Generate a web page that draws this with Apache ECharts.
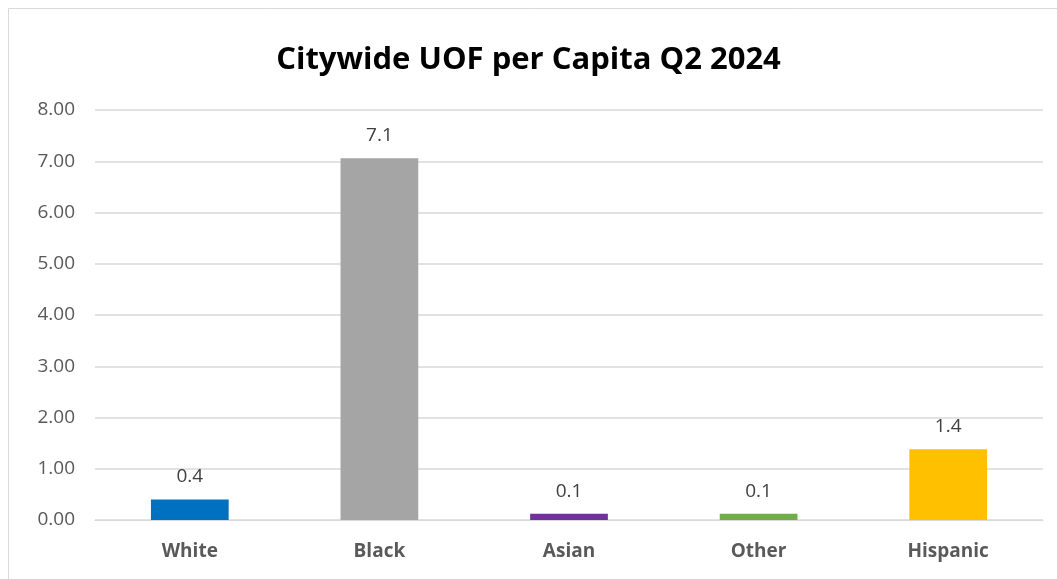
<!DOCTYPE html>
<html><head><meta charset="utf-8">
<script src="https://cdn.jsdelivr.net/npm/echarts@6/dist/echarts.min.js"></script>
<style>html,body{margin:0;padding:0;background:#fff}#c{width:1057px;height:579px}</style>
</head><body><div id="c"></div>
<script>
const categories = ['White', 'Black', 'Asian', 'Other', 'Hispanic'];
const values = [0.4, 7.06, 0.12, 0.12, 1.38];
const colors = ['#0070C0', '#A5A5A5', '#7030A0', '#70AD47', '#FFC000'];
const titleText = 'Citywide UOF per Capita Q2 2024';

const chart = echarts.init(document.getElementById('c'));
chart.setOption({
  animation: false,
  backgroundColor: '#fff',
  graphic: [{type: 'rect', shape: {x: 8.5, y: 8.5, width: 1060, height: 590}, style: {fill: 'none', stroke: '#D9D9D9', lineWidth: 1}, silent: true}],
  title: {text: titleText, left: 'center', top: 40, textStyle: {fontFamily: 'Open Sans', fontWeight: 'bold', fontSize: 31, color: '#000'}},
  grid: {left: 95, right: 14, top: 110, bottom: 59},
  xAxis: {type: 'category', data: categories,
    axisLine: {lineStyle: {color: '#D9D9D9', width: 1}}, axisTick: {show: false},
    axisLabel: {color: '#595959', fontFamily: 'Open Sans', fontWeight: 'bold', fontSize: 19, margin: 22}},
  yAxis: {type: 'value', min: 0, max: 8, interval: 1,
    axisLabel: {formatter: v => v.toFixed(2), color: '#595959', fontFamily: 'Open Sans', fontSize: 19, margin: 20},
    splitLine: {lineStyle: {color: '#D9D9D9', width: 1.5}}, axisLine: {show: false}, axisTick: {show: false}},
  series: [{type: 'bar', barWidth: '41%',
    data: values.map((v, i) => ({value: v, itemStyle: {color: colors[i]}})),
    label: {show: true, position: 'top', distance: 13, formatter: p => p.value.toFixed(1), color: '#404040', fontFamily: 'Open Sans', fontSize: 19}}]
});
</script></body></html>
